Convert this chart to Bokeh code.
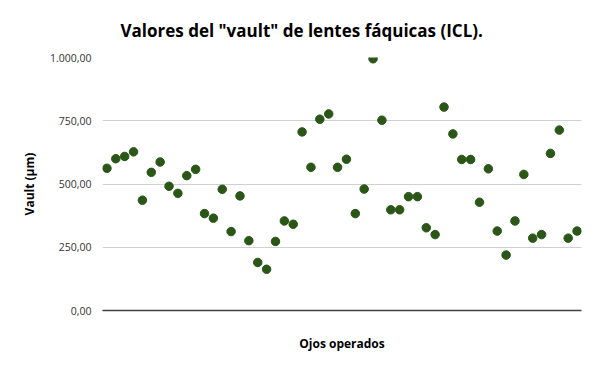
from bokeh.plotting import figure
from bokeh.models import Range1d, FixedTicker, CustomJSTickFormatter, ColumnDataSource
from bokeh.embed import file_html
from bokeh.resources import INLINE

# Data
eyes = list(range(1, 55))
vault = [562, 600, 609, 627, 436, 546, 587, 491, 463, 533,
         558, 383, 365, 479, 312, 453, 276, 190, 163, 273,
         354, 341, 706, 566, 756, 777, 566, 598, 383, 480,
         995, 752, 398, 398, 450, 450, 327, 300, 804, 698,
         597, 597, 428, 560, 314, 219, 354, 538, 286, 300,
         621, 713, 286, 314]
y_ticks = [0, 250, 500, 750, 1000]

title_text = 'Valores del "vault" de lentes fáquicas (ICL).'
x_label = "Ojos operados"
y_label = "Vault (µm)"

source = ColumnDataSource(data=dict(x=eyes, y=vault))

p = figure(width=584, height=355, output_backend="svg", toolbar_location=None,
           x_range=Range1d(0.5, len(eyes) + 0.5), y_range=Range1d(0, 1000),
           min_border_left=102, min_border_right=3, min_border_top=56,
           min_border_bottom=45, title=title_text)

p.scatter("x", "y", source=source, size=8.5, color="#2a5618", line_color="#2a5618")

p.title.align = "left"
p.title.offset = 18
p.title.standoff = 32
p.title.text_font = "Open Sans"
p.title.text_font_size = "17px"
p.title.text_font_style = "bold"
p.title.text_color = "#000000"

p.outline_line_color = None
p.background_fill_color = "white"
p.border_fill_color = "white"

p.xgrid.grid_line_color = None
p.ygrid.grid_line_color = "#d0d0d0"
p.ygrid.grid_line_width = 1
p.ygrid.ticker = FixedTicker(ticks=y_ticks)

p.yaxis.ticker = FixedTicker(ticks=y_ticks)
p.yaxis.formatter = CustomJSTickFormatter(code="""
    const s = tick.toFixed(2).split('.');
    const ip = s[0].replace(/\\B(?=(\\d{3})+(?!\\d))/g, '.');
    return ip + ',' + s[1];
""")
p.yaxis.axis_line_color = None
p.yaxis.major_tick_line_color = None
p.yaxis.minor_tick_line_color = None
p.yaxis.major_label_text_font = "Open Sans"
p.yaxis.major_label_text_font_size = "10.5px"
p.yaxis.major_label_text_color = "#333333"
p.yaxis.major_label_standoff = 5
p.yaxis.axis_label = y_label
p.yaxis.axis_label_text_font = "Open Sans"
p.yaxis.axis_label_text_font_size = "12px"
p.yaxis.axis_label_text_font_style = "bold"
p.yaxis.axis_label_text_color = "#000000"
p.yaxis.axis_label_standoff = 9

p.xaxis.ticker = FixedTicker(ticks=[])
p.xaxis.axis_line_color = "#404040"
p.xaxis.axis_line_width = 1.5
p.xaxis.major_tick_line_color = None
p.xaxis.minor_tick_line_color = None
p.xaxis.axis_label = x_label
p.xaxis.axis_label_text_font = "Open Sans"
p.xaxis.axis_label_text_font_size = "12px"
p.xaxis.axis_label_text_font_style = "bold"
p.xaxis.axis_label_text_color = "#000000"
p.xaxis.axis_label_standoff = 24

open("out.html", "w").write(file_html(p, INLINE))
